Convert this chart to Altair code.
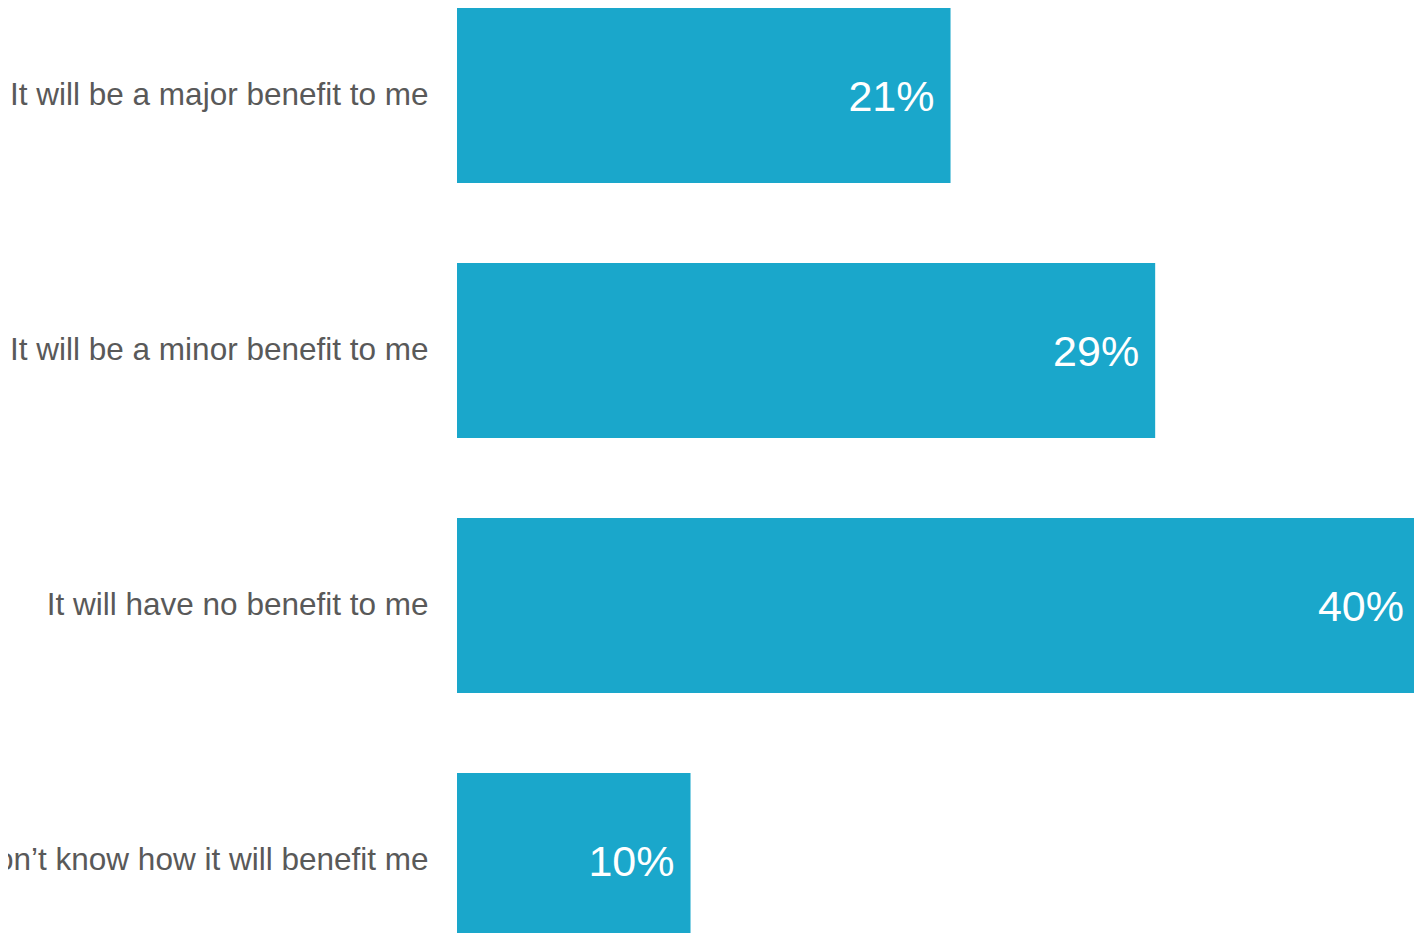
import altair as alt
import pandas as pd

categories = [
    "It will be a major benefit to me",
    "It will be a minor benefit to me",
    "It will have no benefit to me",
    "I don\u2019t know how it will benefit me",
]
values = [20.5, 29.0, 40.0, 9.7]
value_labels = ["21%", "29%", "40%", "10%"]

df = pd.DataFrame({"cat": categories, "val": values, "lab": value_labels})

y_enc = alt.Y(
    "cat:N",
    sort=categories,
    scale=alt.Scale(paddingInner=80 / 255, paddingOuter=0),
    axis=alt.Axis(
        title=None,
        ticks=False,
        domain=False,
        labelPadding=29,
        labelFontSize=31.5,
        labelColor="#595959",
        labelFont="Liberation Sans",
        labelLimit=0,
    ),
)
x_enc = alt.X("val:Q", scale=alt.Scale(domain=[0, 40], nice=False, zero=True), axis=None)

bars = alt.Chart(df).mark_bar(color="#1AA7CB").encode(x=x_enc, y=y_enc)
text = alt.Chart(df).mark_text(
    align="right", baseline="middle", dx=-16, dy=2, color="white",
    fontSize=43, font="Liberation Sans"
).encode(x=x_enc, y=y_enc, text="lab:N")

chart = (
    (bars + text)
    .properties(
        width=963,
        height=940,
        autosize=alt.AutoSizeParams(type="none"),
        padding={"left": 449, "top": 0, "right": -6, "bottom": -15},
    )
    .configure_view(stroke=None)
    .configure_axis(grid=False)
)

chart.save("out.html", embed_options={"renderer": "svg", "actions": False})
